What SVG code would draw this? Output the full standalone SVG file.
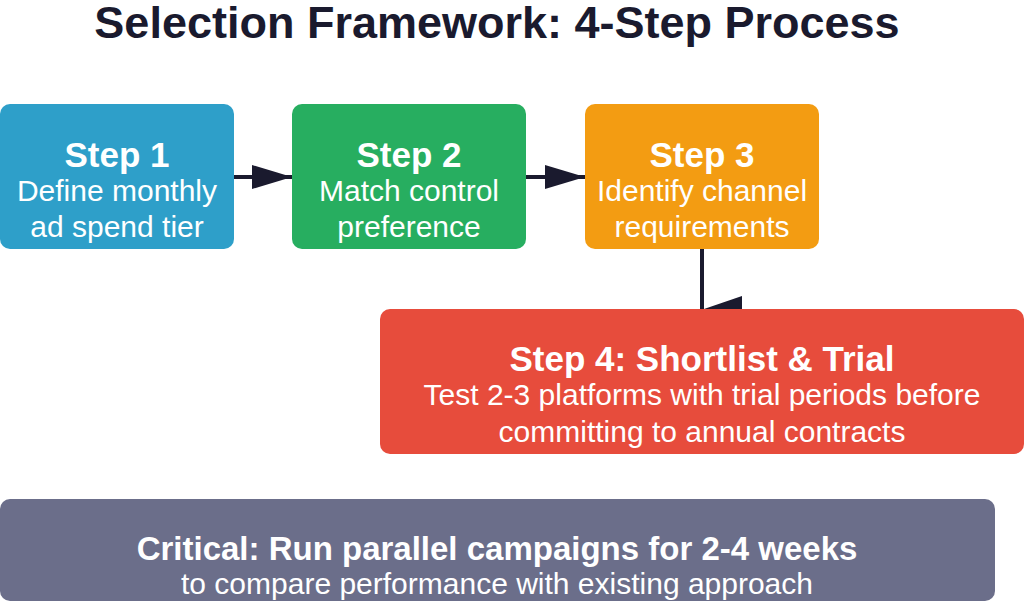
<svg xmlns="http://www.w3.org/2000/svg" width="1024" height="616" viewBox="0 0 1024 616">
<style>
text{font-family:"Liberation Sans",Arial,sans-serif;fill:#fff;text-anchor:middle}
.h{font-weight:bold;font-size:35px}
.b{font-size:30px}
.ln{stroke:#1a1a2e;stroke-width:4;fill:none}
</style>
<rect width="1024" height="616" fill="#fff"/>
<text x="497" y="38" style="font-weight:bold;font-size:45px;fill:#1a1a2e">Selection Framework: 4-Step Process</text>
<g id="connectors">
<line class="ln" x1="234" y1="177" x2="292" y2="177"/>
<polygon points="252,165 292,177 252,189" fill="#1a1a2e"/>
<line class="ln" x1="526" y1="177" x2="585" y2="177"/>
<polygon points="545,165 585,177 545,189" fill="#1a1a2e"/>
<line class="ln" x1="702" y1="249" x2="702" y2="309"/>
<polygon points="704,309 742,296 742,309" fill="#1a1a2e"/>
</g>
<g id="step1"><rect x="0" y="104" width="234" height="145" rx="10" fill="#2e9fc9"/>
<text class="h" x="117" y="167">Step 1</text><text class="b" x="117" y="201">Define monthly</text><text class="b" x="117" y="237">ad spend tier</text></g>
<g id="step2"><rect x="292" y="104" width="234" height="145" rx="10" fill="#27ae60"/>
<text class="h" x="409" y="167">Step 2</text><text class="b" x="409" y="201">Match control</text><text class="b" x="409" y="237">preference</text></g>
<g id="step3"><rect x="585" y="104" width="234" height="145" rx="10" fill="#f39c12"/>
<text class="h" x="702" y="167">Step 3</text><text class="b" x="702" y="201">Identify channel</text><text class="b" x="702" y="237">requirements</text></g>
<g id="step4"><rect x="380" y="309" width="644" height="145" rx="10" fill="#e74c3c"/>
<text class="h" x="702" y="371">Step 4: Shortlist &amp; Trial</text><text class="b" x="702" y="405">Test 2-3 platforms with trial periods before</text><text class="b" x="702" y="442">committing to annual contracts</text></g>
<g id="critical"><rect x="0" y="499" width="995" height="102" rx="10" fill="#6b6e8a"/>
<text x="497" y="560" style="font-weight:bold;font-size:33px">Critical: Run parallel campaigns for 2-4 weeks</text>
<text class="b" x="497" y="594">to compare performance with existing approach</text></g>
</svg>
